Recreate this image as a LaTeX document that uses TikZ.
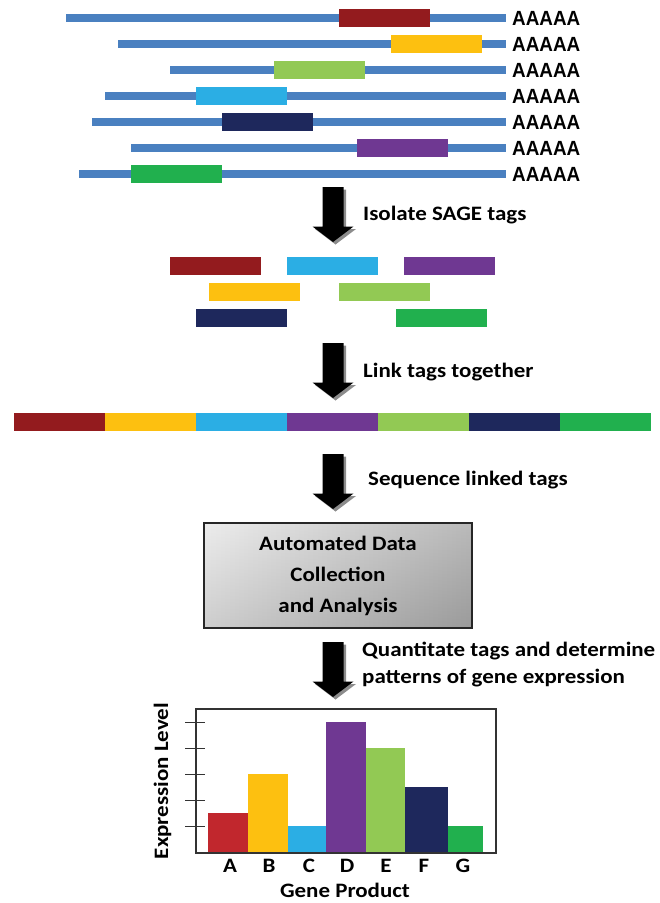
\documentclass[tikz,border=0pt]{standalone}
\usepackage{fontspec}
\setmainfont{Carlito}[FakeStretch=1.12]
\newfontfamily\polyafont{Liberation Sans}[FakeStretch=0.92]

% tag and strand colours
\definecolor{mrna}{HTML}{4A80C0}
\definecolor{tagred}{HTML}{931B1E}
\definecolor{tagyellow}{HTML}{FDC010}
\definecolor{taglime}{HTML}{92C954}
\definecolor{tagcyan}{HTML}{2BAEE4}
\definecolor{tagnavy}{HTML}{1E285C}
\definecolor{tagpurple}{HTML}{6F3892}
\definecolor{taggreen}{HTML}{21B04E}
\definecolor{barred}{HTML}{C1272D}
\definecolor{boxlight}{HTML}{EAEAEA}
\definecolor{boxdark}{HTML}{B0B0B0}

\tikzset{
  lbl/.style={font=\fontsize{20.5}{24}\selectfont\bfseries, inner sep=0pt},
  polya/.style={font=\polyafont\fontsize{20.5}{24}\selectfont\bfseries, inner sep=0pt, anchor=west},
  arrowbody/.style={fill=black},
  arrowshade/.style={fill=black!45},
  frameline/.style={draw=black!80, line width=1.2pt},
  tickline/.style={draw=black!80, line width=1pt},
}

% downward block arrow with a grey drop shadow: name, top y, tip y
\newcommand\stagearrow[3]{%
  \fill[arrowshade, xshift=2.5pt, yshift=-2.5pt]
    (322.5,#2) -- (343.5,#2) -- (343.5,#3-15.5) -- (353.5,#3-15.5) -- (333,#3)
    -- (312.5,#3-15.5) -- (322.5,#3-15.5) -- cycle;
  \fill[arrowbody]
    (322.5,#2) -- (343.5,#2) -- (343.5,#3-15.5) -- (353.5,#3-15.5) -- (333,#3)
    -- (312.5,#3-15.5) -- (322.5,#3-15.5) -- cycle;
  \coordinate (#1) at (333,#3);
}

\begin{document}
\begin{tikzpicture}[x=1pt, y=-1pt]
\useasboundingbox (0,0) rectangle (660,903);

% mRNA strands with their tag regions and poly-A tails
\foreach \s/\t/\c [count=\i] in {66/339/tagred, 118/391/tagyellow, 170/274/taglime,
    105/196/tagcyan, 92/222/tagnavy, 131/357/tagpurple, 79/131/taggreen} {
  \pgfmathsetmacro\yy{18+26*(\i-1)}
  \fill[mrna] (\s,\yy-4) rectangle (506,\yy+4);
  \fill[\c] (\t,\yy-9) rectangle (\t+91,\yy+9);
  \node[polya] (polya\i) at (512,\yy) {AAAAA};
}

\stagearrow{a1}{187}{242}
\node[lbl, anchor=base west] (isolate) at (363,220) {Isolate SAGE tags};

% isolated tags
\foreach \x/\yy/\c in {170/266/tagred, 287/266/tagcyan, 404/266/tagpurple,
    209/292/tagyellow, 339/292/taglime, 196/318/tagnavy, 396/318/taggreen} {
  \fill[\c] (\x,\yy-9) rectangle (\x+91,\yy+9);
}

\stagearrow{a2}{343}{398}
\node[lbl, anchor=base west] (link) at (363,377) {Link tags together};

% concatenated tags
\foreach \c [count=\i] in {tagred, tagyellow, tagcyan, tagpurple, taglime, tagnavy, taggreen} {
  \fill[\c] (14+91*\i-91,413) rectangle (14+91*\i,431);
}

\stagearrow{a3}{454}{509}
\node[lbl, anchor=base west] (sequence) at (368,485) {Sequence linked tags};

% analysis box: grey gradient, light at the upper left, darker at the lower right
\shade[left color=boxlight, right color=boxdark] (204,523) rectangle (472,628);
\shade[top color=white, bottom color=black, fill opacity=0.12] (204,523) rectangle (472,628);
\node[draw=black!85, line width=1.2pt, minimum width=268pt, minimum height=105pt,
      align=center, font=\fontsize{20.5}{31}\selectfont\bfseries, inner sep=0pt]
  (analysis) at (338,575.5) {Automated Data\\Collection\\and Analysis};

\stagearrow{a4}{642}{697}
\node[lbl, anchor=base west] (quant1) at (362,656) {Quantitate tags and determine};
\node[lbl, anchor=base west] (quant2) at (362,683) {patterns of gene expression};

% bar chart of expression levels
\foreach \xa/\xb/\top/\c in {208/248/813/barred, 248/288/774/tagyellow, 288/326/826/tagcyan,
    326/366/722/tagpurple, 366/405/748/taglime, 405/448/787/tagnavy, 448/483/826/taggreen} {
  \fill[\c] (\xa,\top) rectangle (\xb,853);
}
\draw[frameline] (196,709) rectangle (496,853);
\foreach \yy in {722,748,774,800,826} {
  \draw[tickline] (185,\yy) -- (205,\yy);
}
\foreach \x/\g in {230/A, 269/B, 309/C, 347/D, 386/E, 424/F, 463/G} {
  \node[lbl, anchor=base] (gene\g) at (\x,872) {\g};
}
\node[lbl, anchor=base] (xlabel) at (345,897) {Gene Product};
\node[lbl, anchor=base, rotate=90] (ylabel) at (168,781) {Expression Level};

\end{tikzpicture}
\end{document}
